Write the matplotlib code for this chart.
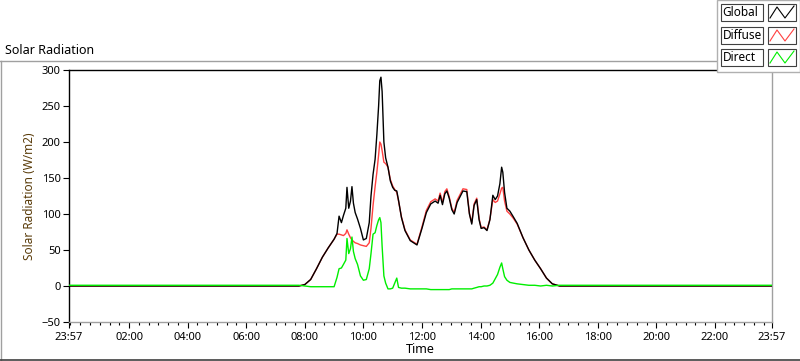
import matplotlib.pyplot as plt
import numpy as np
from matplotlib.patches import Rectangle
from matplotlib.lines import Line2D

plt.rcParams["font.family"] = ["Noto Sans", "DejaVu Sans"]

# time of day in hours (23:57 of the previous day = -0.05)
hours = [
    -0.05, 7.8, 8.0, 8.2, 8.4, 8.6, 8.8, 9.0, 9.1, 9.17,
    9.25, 9.32, 9.4, 9.44, 9.5, 9.56, 9.61, 9.66, 9.72, 9.8,
    9.9, 10.0, 10.1, 10.2, 10.26, 10.33, 10.4, 10.46, 10.52, 10.56,
    10.6, 10.64, 10.7, 10.76, 10.84, 10.92, 11.0, 11.07, 11.14, 11.2,
    11.3, 11.42, 11.6, 11.83, 12.0, 12.15, 12.3, 12.45, 12.55, 12.62,
    12.7, 12.78, 12.85, 12.93, 13.02, 13.1, 13.2, 13.3, 13.4, 13.53,
    13.62, 13.7, 13.78, 13.87, 13.95, 14.02, 14.12, 14.22, 14.32, 14.42,
    14.5, 14.58, 14.66, 14.72, 14.76, 14.82, 14.9, 15.0, 15.12, 15.25,
    15.45, 15.65, 15.85, 16.05, 16.25, 16.45, 16.7, 23.95,
]
global_rad = [
    0, 0, 2, 9, 24, 40, 53, 65, 73, 97,
    88, 98, 108, 137, 108, 118, 138, 115, 102, 93,
    80, 64, 66, 88, 125, 155, 176, 210, 250, 285,
    290, 270, 200, 178, 165, 146, 137, 133, 132, 119,
    95, 77, 63, 57, 80, 102, 114, 118, 115, 126,
    113, 128, 132, 122, 106, 100, 116, 124, 132, 131,
    100, 86, 112, 120, 92, 80, 81, 77, 92, 126,
    120, 125, 142, 165, 158, 130, 108, 104, 96, 87,
    67, 50, 36, 24, 11, 3, 0, 0,
]
diffuse_rad = [
    0, 0, 2, 9, 24, 40, 53, 65, 72, 72,
    71, 70, 73, 78, 72, 67, 64, 62, 60, 59,
    57, 56, 55, 60, 80, 112, 138, 158, 182, 200,
    197, 188, 172, 170, 165, 148, 139, 134, 130, 118,
    96, 78, 64, 58, 82, 105, 117, 121, 118, 129,
    116, 131, 135, 124, 108, 102, 119, 127, 135, 134,
    101, 88, 114, 122, 94, 81, 82, 78, 93, 120,
    116, 118, 128, 136, 137, 118, 104, 100, 94, 86,
    67, 50, 36, 24, 11, 3, 0, 0,
]
direct_rad = [
    1, 1, 0, -1, -1, -1, -1, -1, 12, 24,
    25, 30, 36, 66, 45, 52, 68, 48, 38, 30,
    14, 8, 9, 24, 45, 72, 74, 84, 92, 95,
    88, 55, 14, 4, -4, -4, -3, 4, 11, -2,
    -3, -3, -4, -4, -4, -4, -5, -5, -5, -5,
    -5, -5, -5, -5, -4, -4, -4, -4, -4, -4,
    -4, -4, -3, -2, -1, -1, 0, 0, 1, 4,
    10, 16, 26, 32, 24, 13, 8, 5, 4, 3,
    2, 1, 1, 0, 1, 0, 1, 1,
]
tick_hours = [-0.05, 2, 4, 6, 8, 10, 12, 14, 16, 18, 20, 22, 23.95]
tick_labels = ["23:57", "02:00", "04:00", "06:00", "08:00", "10:00", "12:00",
               "14:00", "16:00", "18:00", "20:00", "22:00", "23:57"]
series_names = ["Global", "Diffuse", "Direct"]
series_colors = ["black", "#ff4040", "#00ee00"]

W, H = 800, 361
fig = plt.figure(figsize=(8, 3.61), dpi=100)


def fx(px):
    return px / W


def fy(py):
    return 1 - py / H


ax = fig.add_axes([fx(69), fy(322), fx(772) - fx(69), fy(70) - fy(322)])

ax.plot(hours, diffuse_rad, color=series_colors[1], lw=1.0, zorder=2)
ax.plot(hours, global_rad, color=series_colors[0], lw=1.0, zorder=3)
ax.plot(hours, direct_rad, color=series_colors[2], lw=1.0, zorder=4)

ax.set_xlim(-0.05, 23.95)
ax.set_ylim(-50, 300)
ax.set_yticks(np.arange(-50, 301, 50))
ax.set_xticks(tick_hours)
ax.set_xticklabels(tick_labels)
ax.set_xticks(np.arange(0, 23.9, 1 / 3), minor=True)
ax.tick_params(axis="both", which="major", labelsize=8, length=4, width=0.8,
               colors="black", pad=2)
ax.tick_params(axis="x", which="minor", length=2.5, width=0.8)
ax.tick_params(axis="x", which="major", pad=3)

for side in ["top", "left"]:
    ax.spines[side].set_color("black")
    ax.spines[side].set_linewidth(1.0)
for side in ["bottom", "right"]:
    ax.spines[side].set_color("#a0a0a0")
    ax.spines[side].set_linewidth(1.0)

ax.set_xlabel("Time", fontsize=9, labelpad=0)
ax.set_ylabel("Solar Radiation (W/m2)", fontsize=8.5, color="#5a3c0a", labelpad=4)

# outer panel frame
fig.add_artist(Line2D([fx(0), fx(717)], [fy(61), fy(61)], color="#a0a0a0", lw=1.0))
fig.add_artist(Line2D([fx(0.5), fx(0.5)], [fy(61), fy(361)], color="#a0a0a0", lw=1.0))
fig.add_artist(Line2D([fx(0), fx(800)], [fy(359.5), fy(359.5)], color="#404040", lw=1.2))
fig.text(fx(5), fy(50), "Solar Radiation", fontsize=9, va="center", ha="left")

# legend panel
fig.add_artist(Rectangle((fx(717), fy(72)), fx(83), fy(0) - fy(72), facecolor="white",
                         edgecolor="#b0b0b0", lw=1.0, zorder=5))
rows = [(4, 21), (27, 44), (49, 66)]
for name, color, (y0, y1) in zip(series_names, series_colors, rows):
    fig.add_artist(Rectangle((fx(721), fy(y1)), fx(42), fy(y0) - fy(y1), facecolor="white",
                             edgecolor="#404040", lw=0.8, zorder=6))
    fig.text(fx(722.5), fy((y0 + y1) / 2), name, fontsize=8.5, va="center", ha="left", zorder=7)
    fig.add_artist(Rectangle((fx(768), fy(y1)), fx(28), fy(y0) - fy(y1), facecolor="white",
                             edgecolor="#404040", lw=0.8, zorder=6))
    zx = [770, 777, 785, 794]
    zy = [y1 - 3, y0 + 3, y1 - 3, y0 + 2]
    fig.add_artist(Line2D([fx(v) for v in zx], [fy(v) for v in zy], color=color, lw=0.8, zorder=7))

fig.savefig("out.png", dpi=100)
